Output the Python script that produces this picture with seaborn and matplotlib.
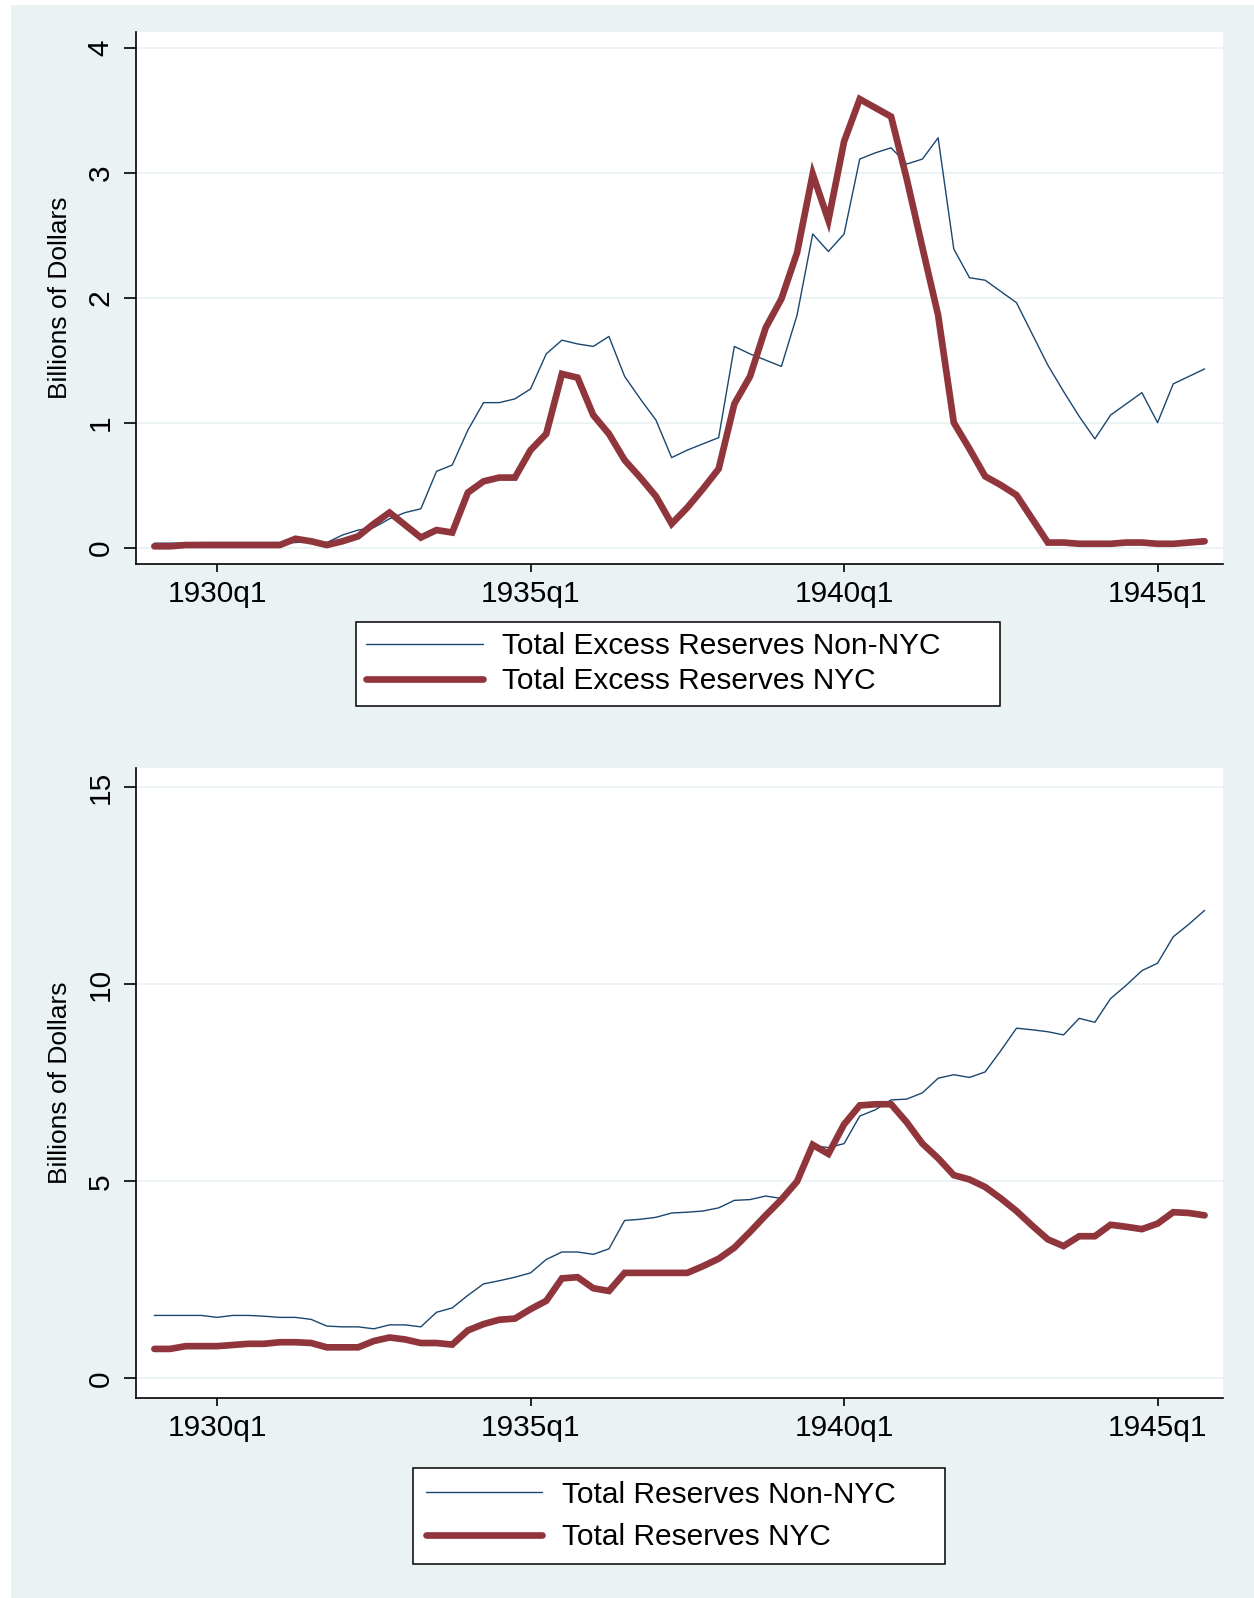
import matplotlib
matplotlib.use("Agg")
import matplotlib.pyplot as plt
import matplotlib.patches as mpatches
import numpy as np
import seaborn as sns

############################################################
# Data: quarterly, 1929q1 .. 1945q4 (billions of dollars)
############################################################
first_year = 1929
n_quarters = 68
quarter = np.arange(n_quarters)  # 0 = 1929q1

excess_non_nyc = [
    0.035, 0.035, 0.035, 0.04, 0.04, 0.04, 0.04, 0.04, 0.04, 0.04,
    0.05, 0.04, 0.10, 0.14, 0.16, 0.23, 0.28, 0.31, 0.61, 0.66,
    0.94, 1.16, 1.16, 1.19, 1.27, 1.55, 1.66, 1.63, 1.61, 1.69,
    1.37, 1.19, 1.02, 0.72, 0.78, 0.83, 0.88, 1.61, 1.55, 1.50,
    1.45, 1.86, 2.51, 2.37, 2.51, 3.11, 3.16, 3.20, 3.07, 3.11,
    3.28, 2.39, 2.16, 2.14, 2.05, 1.96, 1.71, 1.46, 1.25, 1.05,
    0.87, 1.06, 1.15, 1.24, 1.00, 1.31, 1.37, 1.43,
]
excess_nyc = [
    0.01, 0.01, 0.02, 0.02, 0.02, 0.02, 0.02, 0.02, 0.02, 0.07,
    0.05, 0.02, 0.05, 0.09, 0.19, 0.28, 0.18, 0.08, 0.14, 0.12,
    0.44, 0.53, 0.56, 0.56, 0.78, 0.91, 1.39, 1.36, 1.06, 0.91,
    0.70, 0.56, 0.41, 0.19, 0.32, 0.47, 0.63, 1.15, 1.37, 1.76,
    1.99, 2.36, 2.99, 2.62, 3.25, 3.59, 3.52, 3.45, 2.95, 2.40,
    1.86, 1.00, 0.79, 0.57, 0.50, 0.42, 0.23, 0.04, 0.04, 0.03,
    0.03, 0.03, 0.04, 0.04, 0.03, 0.03, 0.04, 0.05,
]
total_non_nyc = [
    1.60, 1.60, 1.60, 1.60, 1.55, 1.60, 1.60, 1.58, 1.55, 1.55,
    1.50, 1.33, 1.31, 1.31, 1.26, 1.36, 1.36, 1.31, 1.68, 1.79,
    2.11, 2.40, 2.48, 2.57, 2.68, 3.02, 3.21, 3.21, 3.15, 3.29,
    4.01, 4.04, 4.09, 4.20, 4.22, 4.25, 4.33, 4.52, 4.54, 4.63,
    4.57, 5.05, 5.91, 5.86, 5.96, 6.66, 6.82, 7.07, 7.09, 7.25,
    7.62, 7.71, 7.64, 7.78, 8.32, 8.89, 8.85, 8.80, 8.72, 9.14,
    9.04, 9.64, 9.98, 10.35, 10.54, 11.21, 11.53, 11.88,
]
total_nyc = [
    0.75, 0.75, 0.82, 0.82, 0.82, 0.85, 0.88, 0.88, 0.92, 0.92,
    0.90, 0.79, 0.79, 0.79, 0.95, 1.04, 0.99, 0.90, 0.90, 0.86,
    1.22, 1.38, 1.49, 1.52, 1.76, 1.97, 2.54, 2.57, 2.29, 2.22,
    2.68, 2.68, 2.68, 2.68, 2.68, 2.85, 3.04, 3.32, 3.72, 4.14,
    4.54, 5.00, 5.93, 5.70, 6.45, 6.93, 6.96, 6.96, 6.50, 5.96,
    5.59, 5.16, 5.05, 4.86, 4.57, 4.25, 3.88, 3.53, 3.36, 3.61,
    3.61, 3.90, 3.85, 3.79, 3.93, 4.22, 4.20, 4.14,
]

tick_quarters = [4, 24, 44, 64]
tick_labels = ["1930q1", "1935q1", "1940q1", "1945q1"]

top_labels = ["Total Excess Reserves Non-NYC", "Total Excess Reserves NYC"]
bottom_labels = ["Total Reserves Non-NYC", "Total Reserves NYC"]

############################################################
# Style (Stata s2color look)
############################################################
sns.set_style("white")
plt.rcParams["font.family"] = ["Liberation Sans", "DejaVu Sans"]
plt.rcParams["text.color"] = "black"
plt.rcParams["axes.labelcolor"] = "black"
plt.rcParams["xtick.color"] = "black"
plt.rcParams["ytick.color"] = "black"

NAVY = "#1A476F"
MAROON = "#90353B"
BG = "#EAF2F3"

fig = plt.figure(figsize=(12.54, 15.98), dpi=100)
fig.patch.set_facecolor("white")
fig.add_artist(mpatches.Rectangle((11 / 1254, 0), 1, 1 - 5 / 1598,
                                  transform=fig.transFigure,
                                  facecolor=BG, edgecolor="none", zorder=-10))

ax1 = fig.add_axes([0.1081, 0.6472, 0.8675, 0.3330])
ax2 = fig.add_axes([0.1081, 0.1253, 0.8675, 0.3940])


def draw_panel(ax, thin, thick, labels, ylim, yticks, leg_box, bpad, lspace):
    sns.lineplot(x=quarter, y=thin, ax=ax, color=NAVY, linewidth=1.0,
                 label=labels[0])
    sns.lineplot(x=quarter, y=thick, ax=ax, color=MAROON, linewidth=4.8,
                 label=labels[1], solid_joinstyle="miter")
    ax.set_facecolor("white")
    ax.set_xlim(-1.2, 68.2)
    ax.set_ylim(*ylim)
    ax.set_xticks(tick_quarters)
    ax.set_xticklabels(tick_labels)
    ax.set_yticks(yticks)
    ax.set_yticklabels([str(t) for t in yticks])
    ax.yaxis.grid(True, color=BG, linewidth=1.3)
    ax.xaxis.grid(False)
    ax.set_axisbelow(True)
    for s in ["top", "right"]:
        ax.spines[s].set_visible(False)
    for s in ["left", "bottom"]:
        ax.spines[s].set_color("black")
        ax.spines[s].set_linewidth(1.2)
    ax.tick_params(axis="x", length=6, width=1.2, pad=6, labelsize=21.5,
                   bottom=True, color="black")
    ax.tick_params(axis="y", length=9, width=1.2, pad=6, labelsize=21.5,
                   left=True, labelrotation=90, color="black")
    for lab in ax.get_yticklabels():
        lab.set_verticalalignment("center")
    ax.set_xlabel("")
    ax.set_ylabel("Billions of Dollars", fontsize=19, va="center")
    ax.yaxis.set_label_coords(-0.0695, 0.5)
    leg = ax.legend(loc="upper left", bbox_to_anchor=leg_box, mode="expand",
                    fontsize=21.5, handlelength=3.9, handletextpad=0.65,
                    borderpad=bpad, labelspacing=lspace, borderaxespad=0,
                    fancybox=False, frameon=True, framealpha=1)
    leg.get_frame().set_edgecolor("black")
    leg.get_frame().set_linewidth(1.1)
    leg.get_frame().set_facecolor("white")


draw_panel(ax1, excess_non_nyc, excess_nyc, top_labels,
           (-0.13, 4.13), [0, 1, 2, 3, 4], (0.2026, -0.109, 0.592, 0),
           0.35, 0.24)
draw_panel(ax2, total_non_nyc, total_nyc, bottom_labels,
           (-0.49, 15.49), [0, 5, 10, 15], (0.255, -0.1117, 0.489, 0),
           0.43, 0.48)

fig.savefig("out.png", dpi=100, facecolor=fig.get_facecolor())
